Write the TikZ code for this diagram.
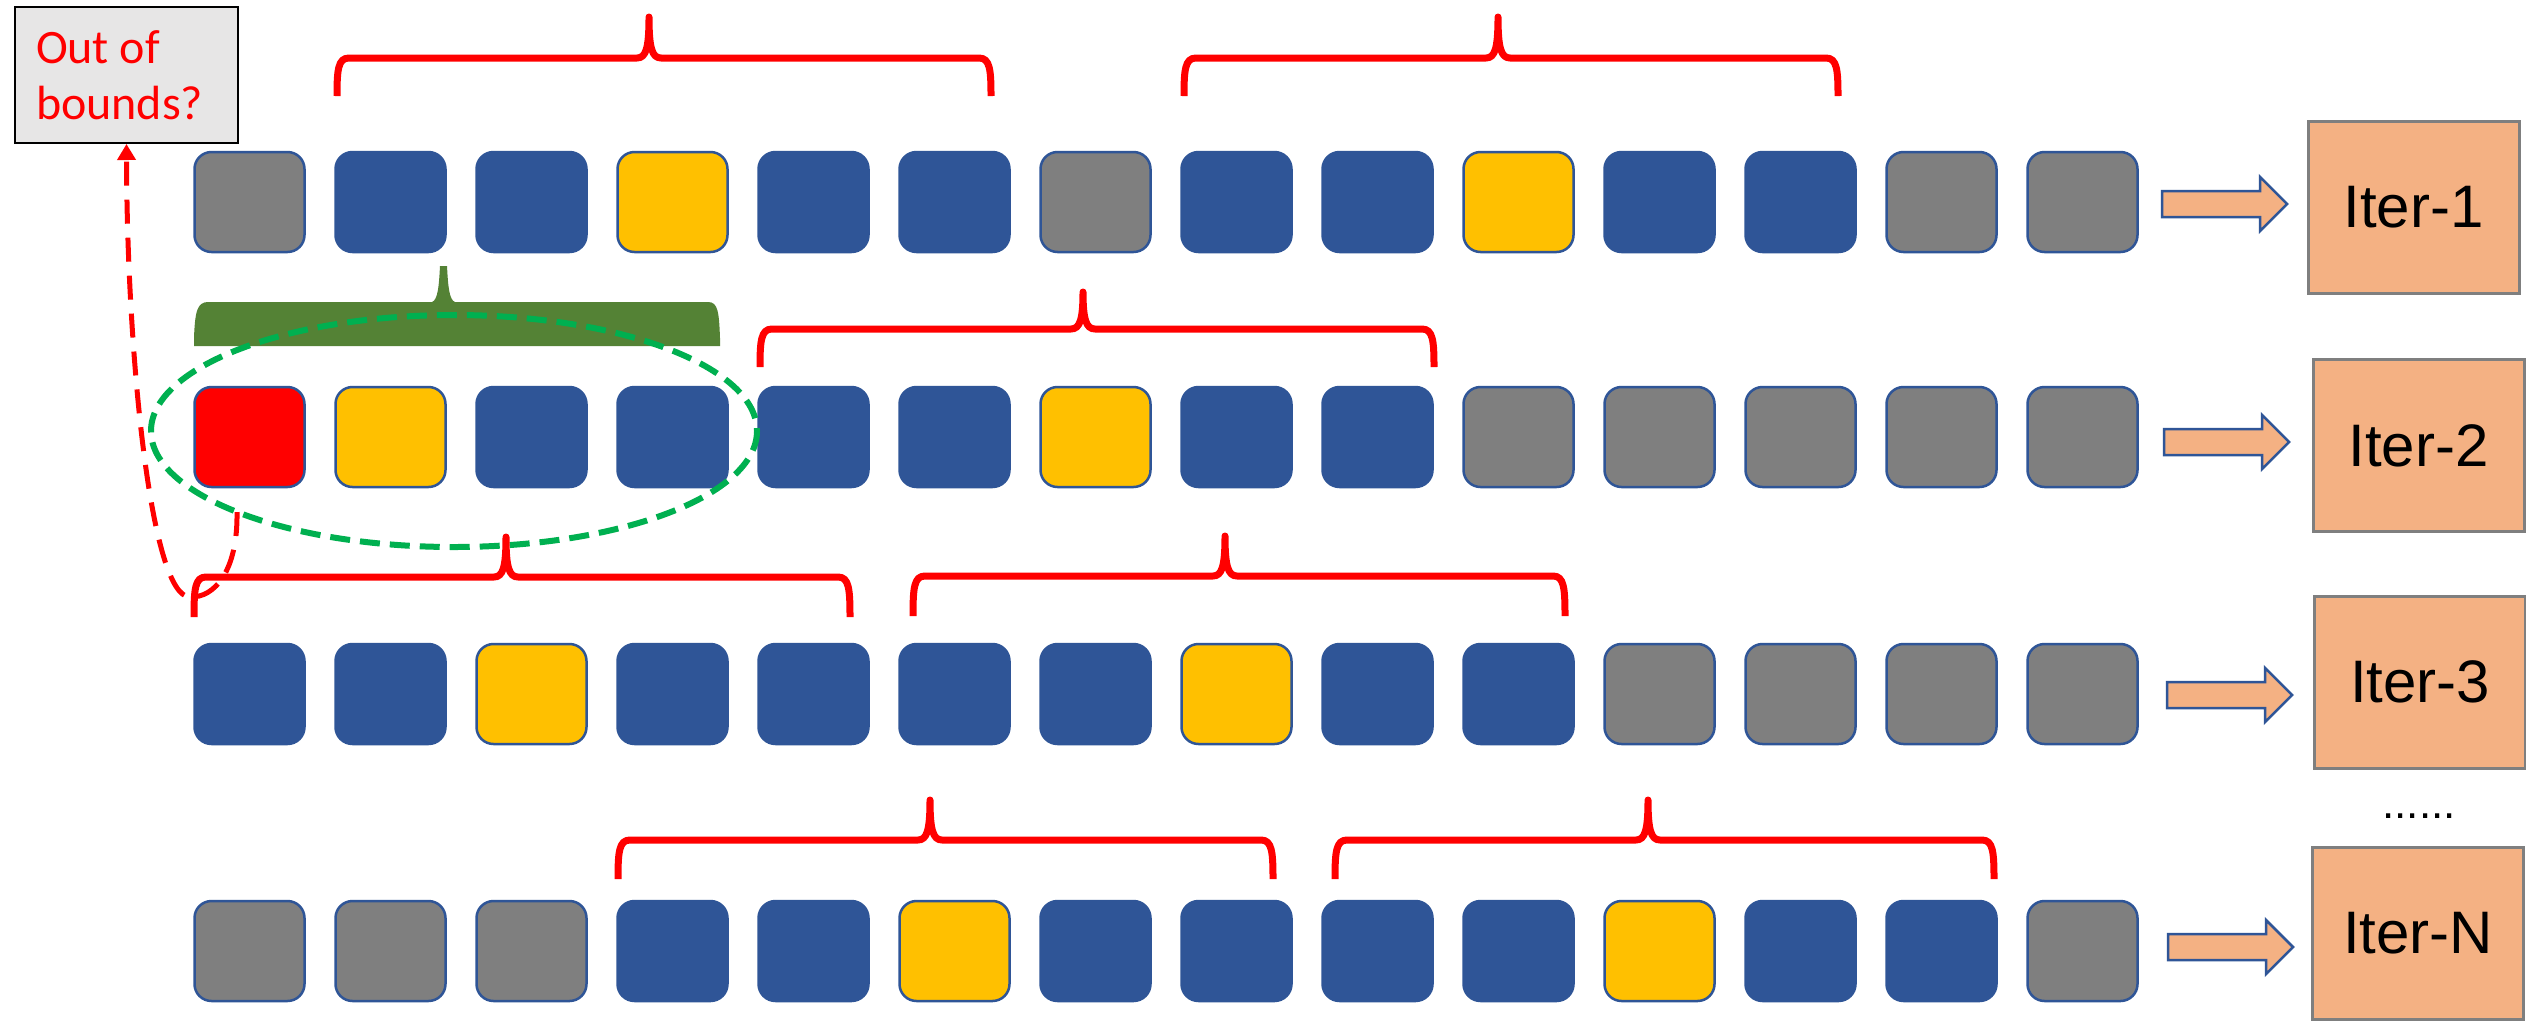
\documentclass[tikz,border=0pt]{standalone}
\usepackage{fontspec}
\setmainfont{Liberation Sans}
\newfontfamily\carlito{Carlito}
\usetikzlibrary{arrows.meta,calc}
\definecolor{colb}{HTML}{2F5597}
\definecolor{colg}{HTML}{7F7F7F}
\definecolor{coly}{HTML}{FFC000}
\definecolor{colr}{HTML}{FF0000}
\definecolor{gbr}{HTML}{548235}
\definecolor{gell}{HTML}{00B050}
\definecolor{orng}{HTML}{F4B183}
\definecolor{boxgray}{HTML}{E7E6E6}
\newcommand\bracepath[6]{(#1,#6) .. controls (#1,#5+12) and (#1+1,#5) .. (#1+12,#5) -- (#3-12,#5) .. controls (#3-3,#5) and (#3,#5-10) .. (#3,#4) .. controls (#3,#5-10) and (#3+3,#5) .. (#3+12,#5) -- (#2-12,#5) .. controls (#2-1,#5) and (#2,#5+12) .. (#2,#6)}
\newcommand\blockarrow[2]{\draw[barrow] (#1,#2-13) -- (#1+98,#2-13) -- (#1+98,#2-27) -- (#1+125,#2) -- (#1+98,#2+27) -- (#1+98,#2+13) -- (#1,#2+13) -- cycle;}
\begin{document}
\begin{tikzpicture}[x=1pt,y=-1pt,
  cell/.style={rounded corners=17pt, minimum width=110pt, minimum height=100pt, draw=colb, line width=2.5pt, inner sep=0pt},
  redbrace/.style={draw=colr, line width=7pt, line join=round},
  iterbox/.style={draw=colg, fill=orng, line width=3pt, minimum width=211pt, minimum height=172pt, inner sep=0pt, font=\fontsize{60}{72}\selectfont},
  barrow/.style={draw=colb, fill=orng, line width=2.5pt, line join=miter},
  oobdash/.style={draw=colr, line width=5pt, dash pattern=on 24pt off 14pt}]
\useasboundingbox (0,0) rectangle (2526,1021);
\fill[white] (0,0) rectangle (2526,1021);

% cells
\foreach \r/\yy/\cols in {1/202/{g,b,b,y,b,b,g,b,b,y,b,b,g,g},2/437/{r,y,b,b,b,b,y,b,b,g,g,g,g,g},3/694/{b,b,y,b,b,b,b,y,b,b,g,g,g,g},4/951/{g,g,g,b,b,y,b,b,b,b,y,b,b,g}}{
  \foreach \c [count=\i from 0] in \cols {
    \node[cell, fill=col\c] (s\r c\i) at ({249.5+141*\i},\yy) {};
  }
}

% out of bounds box
\node[draw=black, fill=boxgray, line width=2pt, minimum width=223pt, minimum height=136pt, inner sep=0pt, text width=181pt, align=flush left, text=colr, font=\carlito\fontsize{48}{56}\selectfont] (oob) at (126.5,75) {Out of\\bounds?};

% iter boxes
\node[iterbox] (it1) at (2413.5,207) {Iter-1};
\node[iterbox] (it2) at (2418.5,445.5) {Iter-2};
\node[iterbox] (it3) at (2420,682) {Iter-3};
\node[iterbox] (itN) at (2418,933.5) {Iter-N};
\node[font=\fontsize{44}{50}\selectfont, anchor=base] (dots) at (2419,818) {......};

% block arrows
\blockarrow{2162}{204}
\blockarrow{2164}{442}
\blockarrow{2167}{695}
\blockarrow{2168}{947}

% green brace
\fill[gbr] (194,346) -- (194,338) .. controls (195,312) and (197,302) .. (208,302) -- (432,302) .. controls (438,300) and (439,285) .. (440,266) -- (447,266) .. controls (448,285) and (449,300) .. (455,302) -- (708,302) .. controls (718,302) and (719,312) .. (720,338) -- (720,346) -- cycle;

% green dashed ellipse
\draw[gell, line width=6pt, dash pattern=on 20pt off 10pt] (454,431) ellipse [x radius=303, y radius=116];

% red braces
\draw[redbrace] \bracepath{337}{991}{649}{17}{58}{96};
\draw[redbrace] \bracepath{1184}{1838}{1498}{17}{58}{96};
\draw[redbrace] \bracepath{760}{1434}{1083}{292}{329}{367};
\draw[redbrace] \bracepath{194}{850}{506}{537}{577}{617};
\draw[redbrace] \bracepath{913}{1565}{1225}{536}{576}{616};
\draw[redbrace] \bracepath{618}{1273}{930}{800}{840}{879};
\draw[redbrace] \bracepath{1335}{1994}{1648}{800}{840}{879};

% out of bounds dashed arrow
\coordinate (dstart) at (237,512);
\draw[oobdash, -{Triangle[width=18pt,length=16pt]}] (dstart) .. controls (238,570) and (215,598) .. (190,597) .. controls (150,597) and (127,350) .. (oob.south);
\end{tikzpicture}
\end{document}
